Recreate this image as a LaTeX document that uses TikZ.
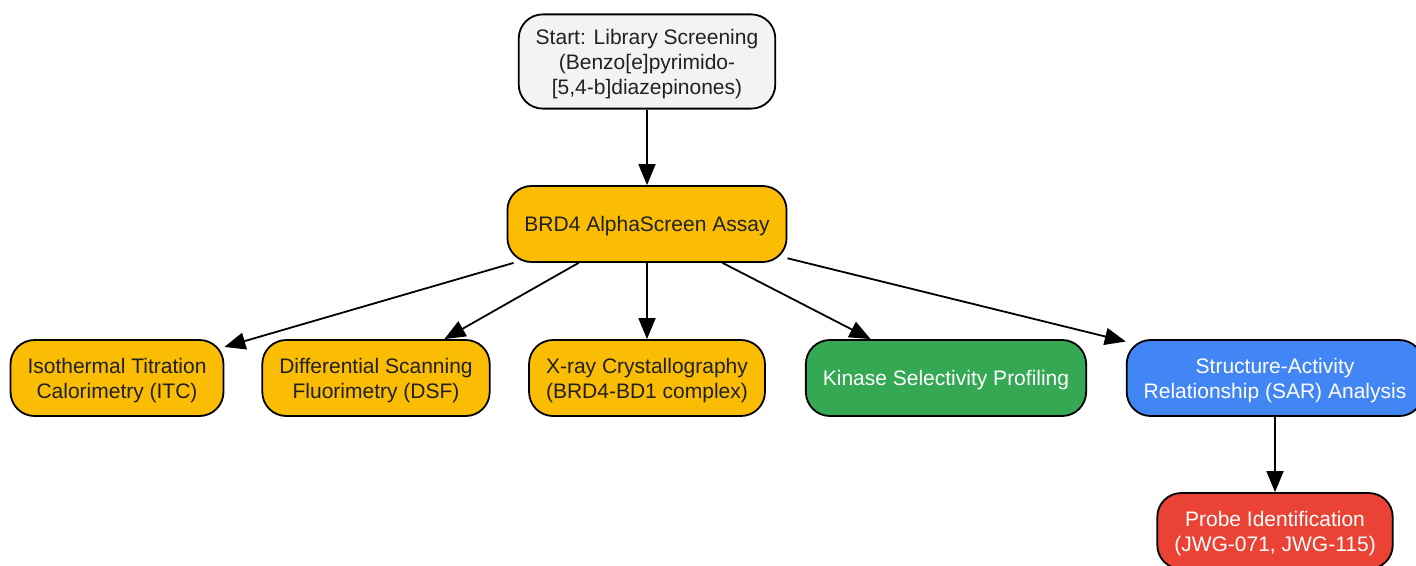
\documentclass[tikz,border=0pt]{standalone}
\usepackage{fontspec}
\setmainfont{Liberation Sans}
\usetikzlibrary{arrows.meta}

\definecolor{startgray}{HTML}{F1F3F4}
\definecolor{assayamber}{HTML}{FBBC04}
\definecolor{kinasegreen}{HTML}{34A853}
\definecolor{sarblue}{HTML}{4285F4}
\definecolor{probered}{HTML}{EA4335}
\definecolor{inkdark}{HTML}{202124}

\tikzset{
    box/.style={draw=black, line width=1.8pt, rounded corners=24pt,
        align=center, inner xsep=17pt, inner ysep=14.5pt,
        minimum height=76pt, text=inkdark, text depth=-1pt,
        font=\fontsize{21}{25}\selectfont},
    flow/.style={-{Triangle[length=21pt,width=17pt]}, line width=1.8pt}
}

\begin{document}
\begin{tikzpicture}[x=1pt,y=-1pt]

    % --- Fix the page size ---
    \useasboundingbox (0,0) rectangle (1416,565);

    % --- Place Nodes ---

    % Start node at the top
    \node[box, fill=startgray] (start) at (647,61.5)
        {Start: Library Screening\\(Benzo[e]pyrimido-\\{[}5,4-b{]}diazepinones)};

    % Primary assay
    \node[box, fill=assayamber] (assay) at (647,224) {BRD4 AlphaScreen Assay};

    % Follow-up assays in one row
    \node[box, fill=assayamber] (itc) at (117,378)
        {Isothermal Titration\\Calorimetry (ITC)};
    \node[box, fill=assayamber] (dsf) at (376,378)
        {Differential Scanning\\Fluorimetry (DSF)};
    \node[box, fill=assayamber] (xray) at (647,378)
        {X-ray Crystallography\\(BRD4-BD1 complex)};
    \node[box, fill=kinasegreen, text=white] (kinase) at (946,378)
        {Kinase Selectivity Profiling};
    \node[box, fill=sarblue, text=white] (sar) at (1275,378)
        {Structure-Activity\\Relationship (SAR) Analysis};

    % Final probe node
    \node[box, fill=probered, text=white] (probe) at (1275,531)
        {Probe Identification\\(JWG-071, JWG-115)};

    % --- Draw Arrows ---
    \draw[flow] (start) -- (assay);
    \draw[flow] (assay) -- (itc);
    \draw[flow] (assay) -- (dsf);
    \draw[flow] (assay) -- (xray);
    \draw[flow] (assay) -- (kinase);
    \draw[flow] (assay) -- (sar);
    \draw[flow] (sar) -- (probe);

\end{tikzpicture}
\end{document}
